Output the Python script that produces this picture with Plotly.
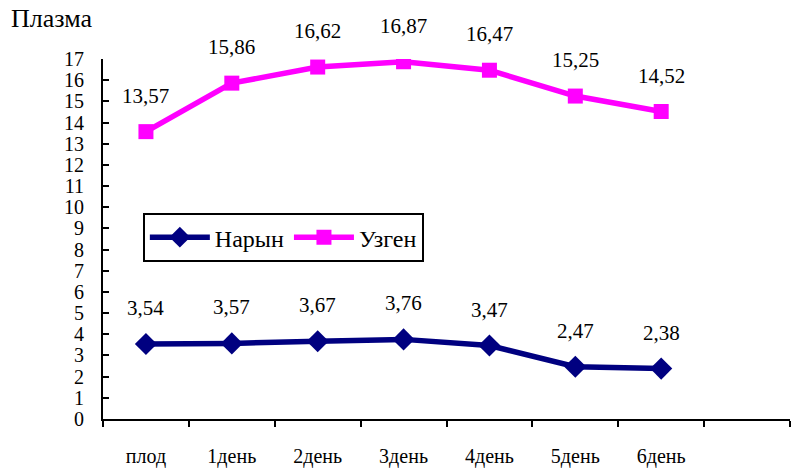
import plotly.graph_objects as go

# Days of observation
categories = ["плод", "1день", "2день", "3день", "4день", "5день", "6день"]
naryn = [3.54, 3.57, 3.67, 3.76, 3.47, 2.47, 2.38]
uzgen = [13.57, 15.86, 16.62, 16.87, 16.47, 15.25, 14.52]
y_ticks = list(range(0, 18))

FONT = "Liberation Serif, Times New Roman, serif"
x = list(range(len(categories)))

fig = go.Figure()
fig.add_trace(go.Scatter(
    x=x, y=naryn, name="Нарын", mode="lines+markers",
    line=dict(color="#000080", width=5.5),
    marker=dict(symbol="diamond", size=17, color="#000080"),
))
fig.add_trace(go.Scatter(
    x=x, y=uzgen, name="Узген", mode="lines+markers",
    line=dict(color="#FF00FF", width=5.5),
    marker=dict(symbol="square", size=15, color="#FF00FF"),
))

# value labels above each point
for series in (naryn, uzgen):
    for xi, v in zip(x, series):
        fig.add_annotation(
            x=xi, y=v, text=f"{v:.2f}".replace(".", ","),
            showarrow=False, yshift=36,
            font=dict(family=FONT, size=21, color="black"),
        )

fig.update_layout(
    width=791, height=469,
    margin=dict(l=103, r=1, t=59, b=46),
    paper_bgcolor="white", plot_bgcolor="white",
    font=dict(family=FONT, color="black"),
    title=dict(text="Плазма", x=11 / 791, xanchor="left", xref="container",
               y=1 - 18 / 469, yanchor="middle", yref="container",
               font=dict(family=FONT, size=26, color="black")),
    legend=dict(
        orientation="h", x=0.058, y=0.572, xanchor="left", yanchor="top",
        bordercolor="black", borderwidth=2, bgcolor="white",
        font=dict(family=FONT, size=24, color="black"),
        itemwidth=60, tracegroupgap=0,
    ),
    showlegend=True,
)

fig.update_xaxes(
    range=[-0.5, 7.5], tickmode="array", tickvals=x, ticktext=categories,
    ticks="", showgrid=False, zeroline=False,
    showline=True, linecolor="black", linewidth=2,
    tickfont=dict(family=FONT, size=20, color="black"),
    ticklabelstandoff=18,
    minor=dict(ticks="outside", tick0=-0.5, dtick=1, ticklen=6,
               tickcolor="black", tickwidth=2, showgrid=False),
)
fig.update_yaxes(
    range=[0, 17], tickmode="array", tickvals=y_ticks,
    ticks="inside", ticklen=6, tickwidth=2, tickcolor="black",
    showgrid=False, zeroline=False,
    showline=True, linecolor="black", linewidth=2,
    tickfont=dict(family=FONT, size=20, color="black"),
    ticklabelstandoff=13,
)

fig.write_html("out.html")
